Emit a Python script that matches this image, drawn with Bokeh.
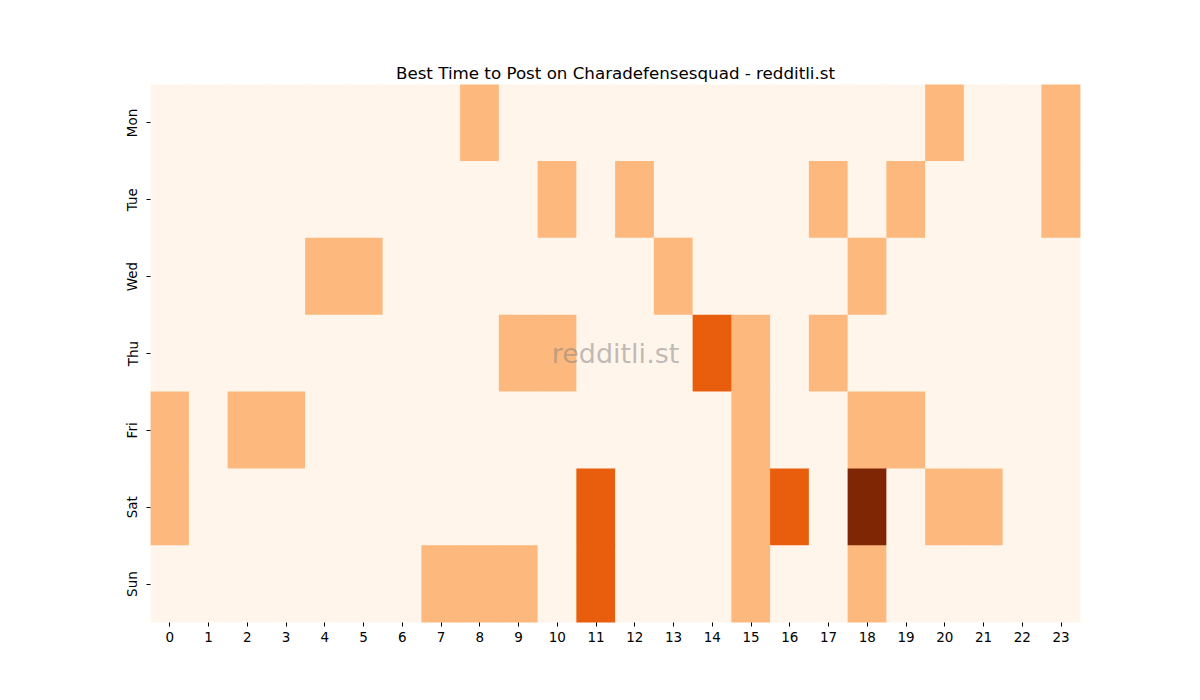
from bokeh.plotting import figure
from bokeh.models import Label, LinearColorMapper, ColumnDataSource
from bokeh.embed import file_html
from bokeh.resources import INLINE

days = ["Mon", "Tue", "Wed", "Thu", "Fri", "Sat", "Sun"]
hours = [str(h) for h in range(24)]

# activity level per (day, hour); unlisted cells are 0
cells = {
    "Mon": {8: 1, 20: 1, 23: 1},
    "Tue": {10: 1, 12: 1, 17: 1, 19: 1, 23: 1},
    "Wed": {4: 1, 5: 1, 13: 1, 18: 1},
    "Thu": {9: 1, 10: 1, 14: 2, 15: 1, 17: 1},
    "Fri": {0: 1, 2: 1, 3: 1, 15: 1, 18: 1, 19: 1},
    "Sat": {0: 1, 11: 2, 15: 1, 16: 2, 18: 3, 20: 1, 21: 1},
    "Sun": {7: 1, 8: 1, 9: 1, 11: 2, 15: 1, 18: 1},
}

palette = ["#fff5eb", "#fdb97d", "#e95e0d", "#7f2704"]

xs, ys, vals = [], [], []
for d in days:
    for h in range(24):
        xs.append(str(h))
        ys.append(d)
        vals.append(cells[d].get(h, 0))

source = ColumnDataSource(data={"x": xs, "y": ys, "v": vals})

p = figure(width=1200, height=700, x_range=hours, y_range=list(reversed(days)),
           output_backend="svg", toolbar_location=None,
           min_border_left=150, min_border_right=120, min_border_top=84, min_border_bottom=78)
p.title.text = "Best Time to Post on Charadefensesquad - redditli.st"
p.title.align = "center"
p.title.text_font = "DejaVu Sans"
p.title.text_font_size = "16.7px"
p.title.text_font_style = "normal"
p.title.text_color = "black"
p.title.standoff = 4

mapper = LinearColorMapper(palette=palette, low=-0.5, high=3.5)
p.rect(x="x", y="y", width=1.02, height=1.01, fill_color={"field": "v", "transform": mapper},
       line_color=None, source=source)

p.xgrid.visible = False
p.ygrid.visible = False
p.outline_line_color = None
for ax in (p.xaxis[0], p.yaxis[0]):
    ax.axis_line_color = None
    ax.major_tick_out = 4
    ax.major_tick_in = 0
    ax.minor_tick_line_color = None
    ax.major_label_text_font = "DejaVu Sans"
    ax.major_label_text_font_size = "13.5px"
    ax.major_label_text_color = "black"
    ax.major_label_standoff = 5
p.yaxis[0].major_label_orientation = "vertical"
p.yaxis[0].major_label_standoff = 6
p.x_range.range_padding = 0
p.y_range.range_padding = 0

p.add_layout(Label(x=12, y=3.5, text="redditli.st", text_align="center",
                   text_baseline="middle", text_font="DejaVu Sans",
                   text_font_size="27px", text_color="#808080", text_alpha=0.5))

open("out.html", "w").write(file_html(p, INLINE))
